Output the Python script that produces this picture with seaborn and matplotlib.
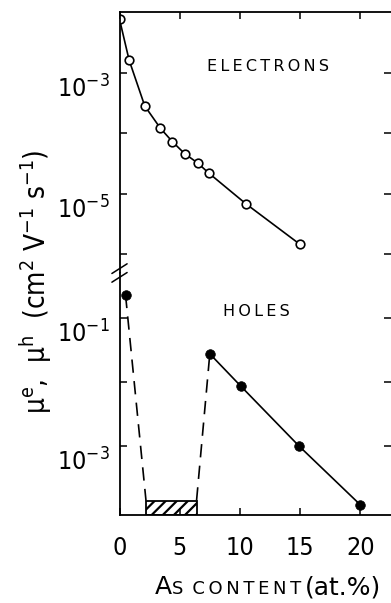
import matplotlib
matplotlib.use("Agg")
import matplotlib.pyplot as plt
import seaborn as sns
from matplotlib.transforms import ScaledTranslation
from matplotlib.offsetbox import TextArea, HPacker, AnchoredOffsetbox

# ---- data -------------------------------------------------------------
electron_x = [0.0, 0.8, 2.1, 3.4, 4.4, 5.4, 6.5, 7.4, 10.5, 15.0]
electron_mu = [7.6e-3, 1.6e-3, 2.8e-4, 1.2e-4, 7.2e-5, 4.6e-5, 3.2e-5, 2.2e-5, 6.8e-6, 1.45e-6]

hole_x = [0.5, 7.5, 10.1, 14.9, 20.0]
hole_mu = [0.23, 0.0275, 8.5e-3, 1.0e-3, 1.2e-4]

# region where hole mobility is below the detection limit
gap_x = [2.2, 6.4]
gap_top = 1.4e-4

x_ticks = [0, 5, 10, 15, 20]
x_tick_labels = ["0", "5", "10", "15", "20"]
e_ticks = [1e-3, 1e-4, 1e-5, 1e-6]
e_tick_labels = ["$10^{-3}$", "", "$10^{-5}$", ""]
h_ticks = [1e-1, 1e-2, 1e-3]
h_tick_labels = ["$10^{-1}$", "", "$10^{-3}$"]

# ---- style ------------------------------------------------------------
sns.set_theme(style="ticks")
plt.rcParams["font.family"] = ["DejaVu Sans"]
plt.rcParams["mathtext.fontset"] = "custom"
plt.rcParams["mathtext.default"] = "regular"
plt.rcParams["hatch.linewidth"] = 1.6
for key in ("axes.edgecolor", "text.color", "axes.labelcolor",
            "xtick.color", "ytick.color"):
    plt.rcParams[key] = "black"

fig = plt.figure(figsize=(3.91, 6.03), dpi=100)
W, H = 391.0, 603.0
left = 119.5 / W
ax_e = fig.add_axes([left, 1 - 273 / H, 1 - left, (273 - 12) / H])
ax_h = fig.add_axes([left, 1 - 515 / H, 1 - left, (515 - 273) / H], sharex=ax_e)

e_lim = (10 ** -6.31, 10 ** -2.0)
h_lim = (10 ** -4.08, 10 ** -0.297)

for ax in (ax_e, ax_h):
    ax.set_facecolor("white")
    ax.set_yscale("log")
    ax.spines["right"].set_visible(False)
    for s in ax.spines.values():
        s.set_linewidth(1.3)
    ax.minorticks_off()

ax_e.spines["bottom"].set_visible(False)
ax_h.spines["top"].set_visible(False)
ax_e.set_ylim(*e_lim)
ax_h.set_ylim(*h_lim)
ax_h.set_xlim(0, 22.55)

# electrons
sns.lineplot(x=electron_x, y=electron_mu, ax=ax_e, color="black", lw=1.2,
             marker="o", markersize=6.2, markerfacecolor="white",
             markeredgecolor="black", markeredgewidth=1.2,
             estimator=None, sort=False)

# holes: detection-limit band, dashed links, solid trend
ax_h.bar(x=gap_x[0], height=gap_top - h_lim[0], bottom=h_lim[0],
         width=gap_x[1] - gap_x[0], align="edge", fill=False, hatch="///",
         edgecolor="black", linewidth=1.3)
sns.lineplot(x=[hole_x[0], gap_x[0]], y=[hole_mu[0], gap_top], ax=ax_h,
             color="black", lw=1.2, linestyle=(0, (8, 5)),
             estimator=None, sort=False)
sns.lineplot(x=[gap_x[1], hole_x[1]], y=[gap_top, hole_mu[1]], ax=ax_h,
             color="black", lw=1.2, linestyle=(0, (8, 5)),
             estimator=None, sort=False)
sns.lineplot(x=hole_x[1:], y=hole_mu[1:], ax=ax_h, color="black", lw=1.2,
             estimator=None, sort=False)
sns.scatterplot(x=hole_x, y=hole_mu, ax=ax_h, color="black", s=48,
                edgecolor="black", linewidth=0.5, zorder=5)

# ticks
tick_font = dict(family="DejaVu Sans", stretch="condensed", size=18)
ax_e.set_yticks(e_ticks, labels=e_tick_labels)
ax_h.set_yticks(h_ticks, labels=h_tick_labels)
ax_h.set_xticks(x_ticks, labels=x_tick_labels)
ax_e.tick_params(axis="x", which="both", bottom=False, top=True,
                 labelbottom=False, direction="in", length=5, width=1.1)
ax_h.tick_params(axis="x", which="both", bottom=True, top=False,
                 direction="in", length=5, width=1.1, pad=15)
for ax in (ax_e, ax_h):
    ax.tick_params(axis="y", which="both", left=True, right=True,
                   direction="in", length=5, width=1.1, pad=7)
    for lbl in ax.get_yticklabels():
        lbl.set_fontfamily(tick_font["family"])
        lbl.set_fontstretch(tick_font["stretch"])
        lbl.set_fontsize(tick_font["size"])
        lbl.set_transform(lbl.get_transform() +
                          ScaledTranslation(0, -10 / 72, fig.dpi_scale_trans))
for lbl in ax_h.get_xticklabels():
    lbl.set_fontfamily(tick_font["family"])
    lbl.set_fontstretch(tick_font["stretch"])
    lbl.set_fontsize(tick_font["size"])

# axis break marks on the left spine
for dy in (-0.018, 0.018):
    ax_h.plot([-0.028, 0.028], [1.0 + dy - 0.02, 1.0 + dy + 0.02],
              transform=ax_h.transAxes, color="black", lw=1.1, clip_on=False)

# panel labels
ax_e.text(12.3, 1.25e-3, "E\u2009L\u2009E\u2009C\u2009T\u2009R\u2009O\u2009N\u2009S",
          ha="center", va="center", fontsize=11.5)
ax_h.text(11.4, 0.125, "H\u2009O\u2009L\u2009E\u2009S",
          ha="center", va="center", fontsize=11.5)

# axis titles
fig.text(36 / W, 1 - 282 / H,
         r"$\mu^e$,  $\mu^h$  (cm$^2$ V$^{-1}$ s$^{-1}$)",
         rotation=90, ha="center", va="center", fontsize=20,
         stretch="condensed", math_fontfamily="dejavusans")

parts = [TextArea("A", textprops=dict(size=18, color="black")),
         TextArea("S\u2002C\u2009O\u2009N\u2009T\u2009E\u2009N\u2009T\u2009",
                  textprops=dict(size=13, color="black")),
         TextArea("(at.%)", textprops=dict(size=18, color="black"))]
pack = HPacker(children=parts, align="baseline", pad=0, sep=0)
box = AnchoredOffsetbox(loc="lower center", child=pack, pad=0, borderpad=0,
                        frameon=False, bbox_to_anchor=(268 / W, 1 - 599 / H),
                        bbox_transform=fig.transFigure)
fig.add_artist(box)

fig.savefig("out.png", dpi=100, facecolor="white")
